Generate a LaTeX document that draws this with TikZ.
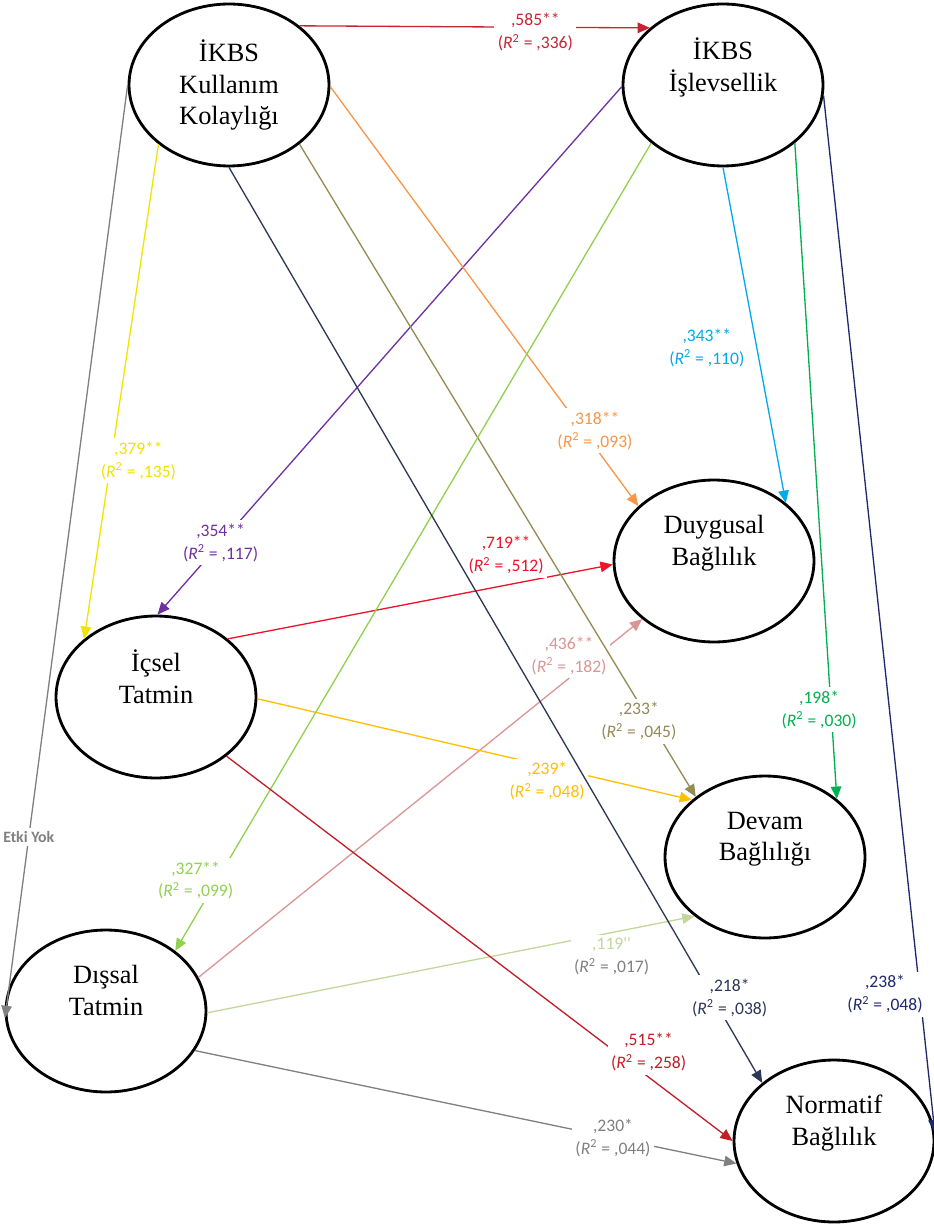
\documentclass[tikz,border=0pt]{standalone}
\usepackage{fontspec}
\setmainfont{Liberation Serif}
\newfontfamily\lblfont{Carlito}
\usepackage{xcolor}
\usetikzlibrary{
  arrows.meta,
  shapes.geometric
}

\definecolor{kirmizi}{RGB}{200,35,50}
\definecolor{sari}{RGB}{240,228,0}
\definecolor{mor}{RGB}{112,48,160}
\definecolor{turuncu}{RGB}{247,150,70}
\definecolor{mavi}{RGB}{0,170,235}
\definecolor{parlakKirmizi}{RGB}{235,20,40}
\definecolor{pembe}{RGB}{218,150,148}
\definecolor{zeytin}{RGB}{148,138,84}
\definecolor{kehribar}{RGB}{255,192,0}
\definecolor{yesil}{RGB}{0,176,80}
\definecolor{acikYesil}{RGB}{146,208,80}
\definecolor{soluk}{RGB}{195,214,155}
\definecolor{lacivertKoyu}{RGB}{45,55,85}
\definecolor{lacivert}{RGB}{32,40,110}
\definecolor{koyuKirmizi}{RGB}{192,30,40}
\definecolor{gri}{RGB}{128,128,128}

\newcommand{\rkare}[1]{(\textit{R}\textsuperscript{2} = ,#1)}

\tikzset{
  konstrukt/.style={ellipse, draw=black, line width=1.6pt, minimum width=4cm,
    minimum height=3.24cm, inner sep=0pt, align=center,
    font=\fontsize{15}{18}\selectfont},
  yol/.style={-{Triangle[length=7pt,width=6pt]}, line width=0.75pt},
  katsayi/.style={fill=white, inner sep=2pt, align=center,
    font=\lblfont\fontsize{10}{13}\selectfont}
}

\begin{document}
\begin{tikzpicture}[x=0.02cm, y=-0.02cm]
    \useasboundingbox (0,0) rectangle (933,1226);

    % Bağımsız değişkenler
    \node[konstrukt] (kk) at (229,85) {İKBS\\Kullanım\\Kolaylığı};
    \node[konstrukt] (isl) at (723,85) {İKBS\\İşlevsellik\\\strut};

    % Aracı değişkenler
    \node[konstrukt] (ic) at (156,697) {İçsel\\Tatmin\\\strut};
    \node[konstrukt] (dis) at (106,1011) {Dışsal\\Tatmin\\\strut};

    % Bağlılık boyutları
    \node[konstrukt] (duy) at (714,561) {Duygusal\\Bağlılık\\\strut};
    \node[konstrukt] (dev) at (765,857) {Devam\\Bağlılığı\\\strut};
    \node[konstrukt] (nor) at (834,1141) {Normatif\\Bağlılık\\\strut};

    % Yollar
    \draw[yol, kirmizi] (kk.40) -- node[katsayi, pos=.673, yshift=-0.1cm] {,585**\\\rkare{336}} (isl.142);
    \draw[yol, sari] (kk.220) -- node[katsayi, pos=.64, xshift=0.55cm] {,379**\\\rkare{135}} (ic.141);
    \draw[yol, mor] (isl.181) -- node[katsayi, pos=.864] {,354**\\\rkare{117}} (ic.89);
    \draw[yol, turuncu] (kk.359) -- node[katsayi, pos=.82, xshift=0.24cm] {,318**\\\rkare{093}} (duy.144);
    \draw[yol, mavi] (isl.270) -- node[katsayi, pos=.538, xshift=-1cm] {,343**\\\rkare{110}} (duy.39);
    \draw[yol, parlakKirmizi] (ic.39) -- node[katsayi, pos=.723, yshift=0.6cm] {,719**\\\rkare{512}} (duy.182);
    \draw[yol, pembe] (dis.20) -- node[katsayi, pos=.835, yshift=0.45cm] {,436**\\\rkare{182}} (duy.219);
    \draw[yol, zeytin] (kk.320) -- node[katsayi, pos=.884, xshift=-0.22cm] {,233*\\\rkare{045}} (dev.139);
    \draw[yol, kehribar] (ic.359) -- node[katsayi, pos=.667, yshift=-0.3cm] {,239*\\\rkare{048}} (dev.142);
    \draw[yol, yesil] (isl.321) -- node[katsayi, pos=.864, xshift=-0.24cm] {,198*\\\rkare{030}} (dev.39);
    \draw[yol, acikYesil] (isl.219) -- node[katsayi, pos=.913, xshift=-0.42cm] {,327**\\\rkare{099}} (dis.41);
    \draw[yol, soluk] (dis.359) -- node[katsayi, pos=.83, yshift=-0.48cm] {,119''\\\textcolor{gri}{\rkare{017}}} (dev.220);
    \draw[yol, lacivertKoyu] (kk.270) -- node[katsayi, pos=.907, xshift=0.34cm] {,218*\\\rkare{038}} (nor.141);
    \draw[yol, lacivert] (isl.354) -- node[katsayi, pos=.867, xshift=-0.7cm] {,238*\\\rkare{048}} (nor.5);
    \draw[yol, koyuKirmizi] (ic.320) -- node[katsayi, pos=.834, yshift=0.5cm] {,515**\\\rkare{258}} (nor.180);
    \draw[yol, gri] (dis.336) -- node[katsayi, pos=.772] {,230*\\\rkare{044}} (nor.193);
    \draw[yol, gri] (kk.180) -- node[katsayi, pos=.806, font=\lblfont\bfseries\fontsize{9}{11}\selectfont] {Etki Yok} (dis.184);
\end{tikzpicture}
\end{document}
